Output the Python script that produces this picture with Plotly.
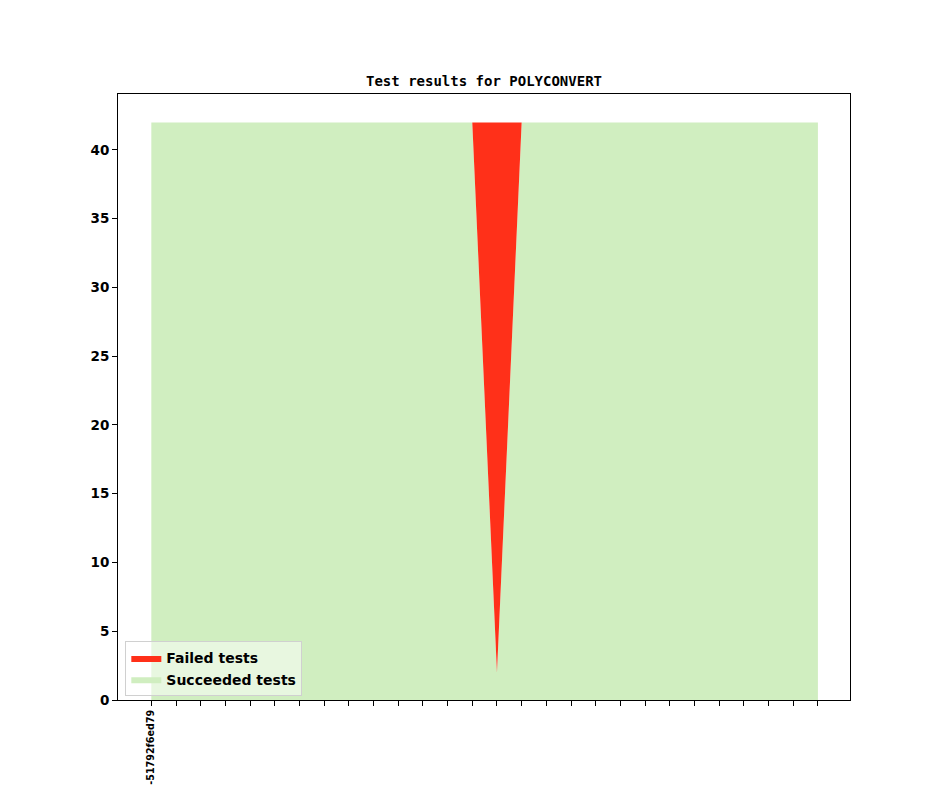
import plotly.graph_objects as go

# commits along the x axis (only the first one gets a label)
commits = list(range(28))
commit_labels = ["-51792f6ed79"] + [""] * 27

succeeded = [42] * 14 + [2] + [42] * 13
failed = [0] * 14 + [40] + [0] * 13

y_ticks = [0, 5, 10, 15, 20, 25, 30, 35, 40]

fig = go.Figure()
fig.add_trace(go.Scatter(x=commits, y=succeeded, name="<b>Succeeded tests</b>", stackgroup="one",
                         mode="lines", line=dict(width=0), fillcolor="#d0eec0"))
fig.add_trace(go.Scatter(x=commits, y=failed, name="<b>Failed tests</b>", stackgroup="one",
                         mode="lines", line=dict(width=0), fillcolor="#ff3019"))

# page is drawn with an 8px body offset, so margins are shifted to compensate
fig.update_layout(
    width=944, height=787,
    margin=dict(l=110, r=102, t=86, b=95),
    paper_bgcolor="white", plot_bgcolor="white",
    font=dict(family="DejaVu Sans", color="black"),
    title=dict(text="<b>Test results for POLYCONVERT</b>", x=0.5, xref="paper",
               y=1 - 73 / 787, yref="container", yanchor="middle",
               font=dict(family="DejaVu Sans Mono", size=14)),
    showlegend=True,
    legend=dict(x=0.01, y=0.006, xanchor="left", yanchor="bottom", traceorder="reversed",
                bgcolor="rgba(255,255,255,0.5)", bordercolor="#d0d0d0", borderwidth=1,
                font=dict(size=14, family="DejaVu Sans"), itemwidth=30),
    hovermode=False,
)
fig.update_xaxes(range=[-1.35, 28.3], tickvals=commits,
                 ticktext=["<b>%s</b>" % t if t else "" for t in commit_labels], tickangle=-90,
                 ticks="outside", ticklen=5, tickcolor="black", showgrid=False, zeroline=False,
                 showline=True, linecolor="black", linewidth=1, mirror=True, automargin=False,
                 tickfont=dict(size=9.6, family="DejaVu Sans", color="black"))
fig.update_yaxes(range=[0, 44.07], tickvals=y_ticks, ticktext=["<b>%d</b>" % v for v in y_ticks],
                 ticks="outside", ticklen=5, tickcolor="black", showgrid=False, zeroline=False,
                 showline=True, linecolor="black", linewidth=1, mirror=True, automargin=False,
                 tickfont=dict(size=13.5, family="DejaVu Sans", color="black"))

fig.write_html("out.html")
